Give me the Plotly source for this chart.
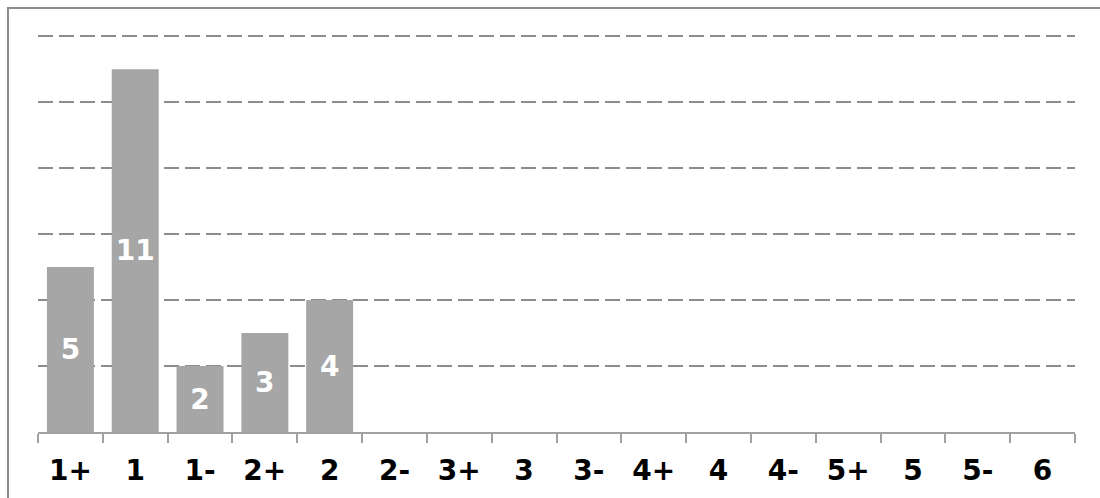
import plotly.graph_objects as go

categories = ["1+", "1", "1-", "2+", "2", "2-", "3+", "3", "3-", "4+", "4", "4-", "5+", "5", "5-", "6"]
counts = [5, 11, 2, 3, 4, 0, 0, 0, 0, 0, 0, 0, 0, 0, 0, 0]
labels = [str(v) if v > 0 else "" for v in counts]

W, H = 1100, 498
ml, mr, mt, mb = 38, 25, 33, 66
pw, ph = W - ml - mr, H - mt - mb
ytop = 12.1

fig = go.Figure(go.Bar(
    x=categories, y=counts, text=labels,
    textposition="inside", insidetextanchor="middle",
    textangle=0,
    textfont=dict(family="DejaVu Sans", size=28, color="white", weight="bold"),
    marker=dict(color="#a6a6a6", line=dict(width=0)),
    cliponaxis=False,
))

fig.update_layout(
    width=W, height=H,
    margin=dict(l=ml, r=mr, t=mt, b=mb),
    paper_bgcolor="white", plot_bgcolor="white",
    bargap=0.275, showlegend=False,
    uniformtext=dict(mode=False),
    xaxis=dict(
        type="category", showgrid=False, showline=True, linecolor="#a0a0a0", linewidth=2,
        ticks="outside", ticklen=9, tickcolor="#a0a0a0", tickwidth=2,
        tickson="boundaries",
        tickfont=dict(family="DejaVu Sans", size=28, color="black", weight="bold"),
        ticklabelstandoff=12,
    ),
    yaxis=dict(
        range=[0, ytop], tickvals=[2, 4, 6, 8, 10, 12], showticklabels=False, showline=False,
        showgrid=True, gridcolor="#8c8c8c", gridwidth=2, griddash="15px,6px",
        zeroline=False, ticks="",
    ),
    shapes=[dict(
        type="rect", xref="paper", yref="paper",
        x0=(8 - ml) / pw, x1=1.2, y0=-0.5, y1=1 + (mt - 8) / ph,
        line=dict(color="#8c8c8c", width=2), fillcolor="rgba(0,0,0,0)", layer="below",
    )],
)

fig.write_html("out.html")
